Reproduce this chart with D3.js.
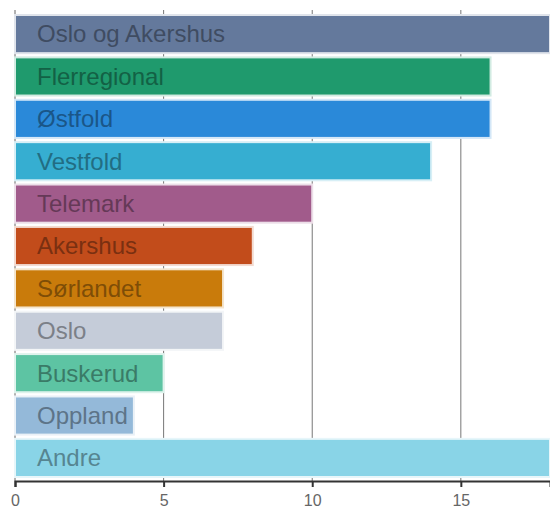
<!DOCTYPE html>
<html><head><meta charset="utf-8">
<script src="https://cdn.jsdelivr.net/npm/d3@7"></script>
<style>html,body{margin:0;padding:0;background:#fff;}svg{display:block;}</style>
</head><body>
<svg id="c" width="550" height="516"></svg>
<script>
const categories = ["Oslo og Akershus","Flerregional","Østfold","Vestfold","Telemark","Akershus","Sørlandet","Oslo","Buskerud","Oppland","Andre"];
const values = [18,16,16,14,10,8,7,7,5,4,18];
const colors = ["#64799c","#1f9a6d","#2a89d9","#36aed1","#a15b8b","#c24c1b","#c97b0b","#c5ccd9","#5dc4a3","#94b9d9","#89d4e7"];
const tickValues = [0,5,10,15];

const svg = d3.select("#c");
const x = d3.scaleLinear().domain([0,18]).range([15,550]);
const y = d3.scaleBand().domain(categories).range([15,477]).paddingInner(0.1).paddingOuter(0);
const axisY = 481;

// grid
svg.append("g").selectAll("line").data(tickValues).join("line")
  .attr("x1", d=>x(d)).attr("x2", d=>x(d)).attr("y1", 10).attr("y2", axisY)
  .attr("stroke", d=> d===0 ? "#666" : "#777").attr("stroke-width", 1);

// bars
svg.append("g").selectAll("rect").data(categories).join("rect")
  .attr("x", x(0)).attr("y", (d)=>y(d))
  .attr("width", (d,i)=>x(values[i])-x(0)).attr("height", y.bandwidth())
  .attr("fill", (d,i)=>colors[i])
  .attr("stroke", (d,i)=>d3.interpolateRgb(colors[i], "#fff")(0.8))
  .attr("stroke-width", 2);

// labels
svg.append("g").selectAll("text").data(categories).join("text")
  .attr("x", 37).attr("y", d=>y(d)+y.bandwidth()/2).attr("dy","0.35em")
  .attr("font-family","'Liberation Sans', Arial, Helvetica, sans-serif")
  .attr("font-size", 24)
  .attr("fill", (d,i)=>d3.color(colors[i]).darker(1.3).formatHex())
  .text(d=>d);

// x axis
const ax = svg.append("g").attr("transform", `translate(0,${axisY})`)
  .call(d3.axisBottom(x).tickValues(tickValues).tickSize(6).tickSizeOuter(6).tickPadding(8));
ax.select(".domain").attr("stroke","#333").attr("stroke-width",2);
ax.selectAll(".tick line").attr("stroke","#333").attr("stroke-width",2);
ax.selectAll(".tick text").attr("font-family","'Liberation Sans', Arial, Helvetica, sans-serif")
  .attr("font-size",16).attr("fill","#666");
</script>
</body></html>
